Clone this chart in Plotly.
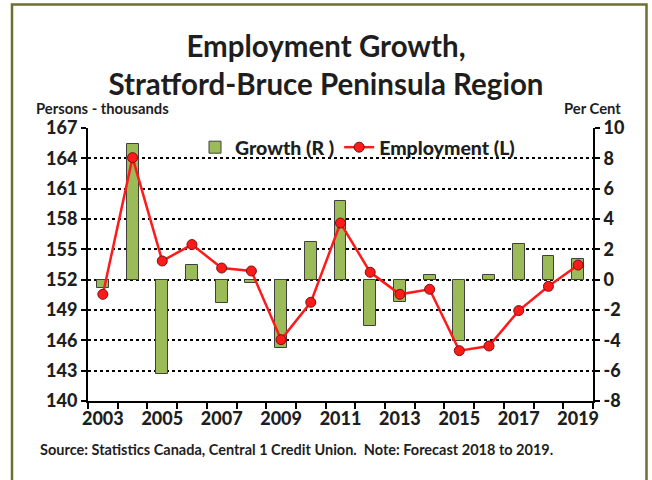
import plotly.graph_objects as go

years = list(range(2003, 2020))
employment = [150.55, 164.07, 153.85, 155.47, 153.15, 152.86, 146.07, 149.76, 157.6,
              152.73, 150.55, 151.05, 144.98, 145.44, 148.94, 151.34, 153.45]
growth = [-0.55, 8.93, -6.24, 1.0, -1.51, -0.24, -4.48, 2.49, 5.17,
          -3.07, -1.47, 0.31, -4.06, 0.31, 2.38, 1.56, 1.36]
label_years = [y for y in years if y % 2 == 1]
boundaries = [y - 0.5 for y in years] + [years[-1] + 0.5]
left_ticks = list(range(140, 168, 3))
right_ticks = list(range(-8, 11, 2))

FONT = "Lato"
TXT = "#1e1e1e"

def b(s):
    return "<b>%s</b>" % s

fig = go.Figure()
fig.add_trace(go.Bar(
    x=years, y=growth, name="Growth (R )", yaxis="y",
    marker=dict(color="#9BBB59", line=dict(color="#404040", width=1)),
    width=0.4,
))
fig.add_trace(go.Scatter(
    x=years, y=employment, name="Employment (L)", yaxis="y2",
    mode="lines+markers",
    line=dict(color="#FF1A1A", width=2.5),
    marker=dict(size=10, color="#FF1A1A", line=dict(color="#7a1010", width=1)),
))

L, R, T, B = 88, 59, 128, 79
W, H = 652, 480
pw = W - L - R
ph = H - T - B

def px(x):
    return (x - L) / pw

def py(y):
    return (H - B - y) / ph

tickfont = dict(size=18, family=FONT, color=TXT, weight=900)

fig.update_layout(
    width=W, height=H,
    margin=dict(l=L, r=R, t=T, b=B),
    paper_bgcolor="white", plot_bgcolor="white",
    font=dict(family=FONT, color=TXT),
    title=dict(
        text=b("Employment Growth,") + "<br>" + b("Stratford-Bruce Peninsula Region"),
        x=0.5, xref="container", xanchor="center",
        y=1 - 57 / H, yref="container", yanchor="middle",
        font=dict(size=29.5, family=FONT, color=TXT),
    ),
    showlegend=True,
    legend=dict(
        orientation="h", x=px(195), y=py(128), xanchor="left", yanchor="top",
        bgcolor="rgba(0,0,0,0)", font=dict(size=19.5, family=FONT, color=TXT, weight=900),
        itemwidth=30, traceorder="normal",
    ),
    bargap=0,
    xaxis=dict(
        range=[years[0] - 0.5, years[-1] + 0.5],
        tickvals=label_years, ticktext=[str(y) for y in label_years],
        ticks="", showgrid=False, zeroline=False,
        showline=True, linecolor="black", linewidth=2,
        tickfont=tickfont,
        minor=dict(tickvals=boundaries, ticks="outside", ticklen=6, tickcolor="black", tickwidth=1.5, showgrid=False),
    ),
    yaxis=dict(
        side="right", range=[-8, 10], tickvals=right_ticks, ticktext=[str(v) for v in right_ticks],
        showgrid=True, gridcolor="black", gridwidth=1.5, griddash="dot",
        zeroline=False, showline=True, linecolor="black", linewidth=2,
        ticks="outside", ticklen=5, tickcolor="black", tickwidth=1.5,
        tickfont=tickfont,
    ),
    yaxis2=dict(
        side="left", overlaying="y", range=[140, 167], tickvals=left_ticks, ticktext=[str(v) for v in left_ticks],
        showgrid=False, zeroline=False, showline=True, linecolor="black", linewidth=2,
        ticks="outside", ticklen=5, tickcolor="black", tickwidth=1.5,
        tickfont=tickfont,
    ),
    annotations=[
        dict(text=b("Persons - thousands"), xref="paper", yref="paper",
             x=px(34), y=py(108), xanchor="left", yanchor="middle", showarrow=False,
             font=dict(size=14.8, family=FONT, color=TXT)),
        dict(text=b("Per Cent"), xref="paper", yref="paper",
             x=px(623), y=py(108), xanchor="right", yanchor="middle", showarrow=False,
             font=dict(size=14.8, family=FONT, color=TXT)),
        dict(text=b("Source: Statistics Canada, Central 1 Credit Union.  Note: Forecast 2018 to 2019."),
             xref="paper", yref="paper",
             x=px(38), y=py(449), xanchor="left", yanchor="middle", showarrow=False,
             font=dict(size=14.5, family=FONT, color=TXT)),
    ],
    shapes=[
        dict(type="rect", xref="paper", yref="paper",
             x0=px(12), x1=px(646.5), y0=py(495), y1=py(4.5),
             line=dict(color="#6f6f30", width=2.5), fillcolor="rgba(0,0,0,0)", layer="below"),
    ],
)

fig.write_html("out.html", config={"displayModeBar": False},
               post_script="document.body.style.margin='0';document.body.style.padding='0';")
